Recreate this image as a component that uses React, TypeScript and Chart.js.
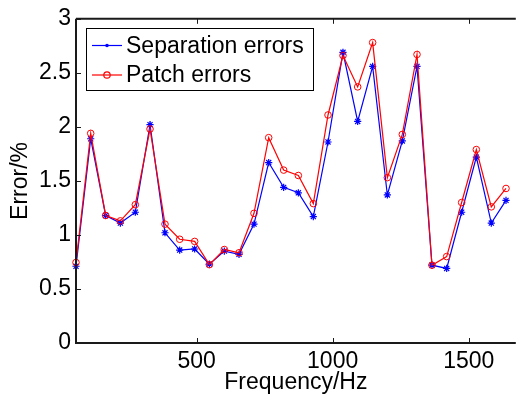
import React, { useEffect, useRef } from "react";
import { Chart, registerables } from "chart.js";

Chart.register(...registerables);

// Measurement frequencies (Hz)
const freqHz = [
  57, 111, 166, 220, 275, 329, 384, 438, 493, 547, 602, 656, 711, 765, 820,
  874, 929, 983, 1038, 1092, 1147, 1201, 1256, 1310, 1365, 1419, 1474, 1528,
  1583, 1637,
];

// Error percentages for each method
const separationErrors = [
  0.71, 1.89, 1.18, 1.11, 1.21, 2.02, 1.02, 0.86, 0.87, 0.73, 0.85, 0.82, 1.1,
  1.67, 1.44, 1.39, 1.17, 1.86, 2.69, 2.05, 2.56, 1.37, 1.87, 2.56, 0.72, 0.69,
  1.21, 1.72, 1.11, 1.32,
];
const patchErrors = [
  0.745, 1.94, 1.18, 1.13, 1.28, 1.98, 1.1, 0.96, 0.94, 0.725, 0.865, 0.835,
  1.2, 1.9, 1.6, 1.55, 1.29, 2.11, 2.66, 2.37, 2.78, 1.53, 1.93, 2.67, 0.72,
  0.8, 1.3, 1.79, 1.26, 1.43,
];

const xTicks = [500, 1000, 1500];
const yTicks = [0, 0.5, 1, 1.5, 2, 2.5, 3];
const seriesLabels = ["Separation errors", "Patch errors"];

const FONT = "Arial, 'Liberation Sans', Helvetica, sans-serif";
const FONT_SIZE = 23;

// Axis box with inward tick marks, plus a line-and-marker legend
const frameAndLegend = {
  id: "frameAndLegend",
  afterDraw(chart: any) {
    const { ctx, chartArea } = chart;
    const xs = chart.scales.x;
    const ys = chart.scales.y;
    const { left, right, top, bottom } = chartArea;
    ctx.save();
    ctx.strokeStyle = "#1a1a1a";
    ctx.lineWidth = 2;
    ctx.beginPath();
    ctx.moveTo(left, top);
    ctx.lineTo(right, top);
    ctx.moveTo(left, top);
    ctx.lineTo(left, bottom);
    ctx.lineTo(right, bottom);
    ctx.stroke();

    ctx.lineWidth = 1;
    ctx.beginPath();
    const tl = 5;
    for (const v of xTicks) {
      const px = Math.round(xs.getPixelForValue(v)) + 0.5;
      ctx.moveTo(px, bottom);
      ctx.lineTo(px, bottom - tl);
      ctx.moveTo(px, top);
      ctx.lineTo(px, top + tl);
    }
    for (const v of yTicks) {
      const py = Math.round(ys.getPixelForValue(v)) + 0.5;
      ctx.moveTo(left, py);
      ctx.lineTo(left + tl, py);
    }
    ctx.stroke();

    // legend
    const bx = 86.5, by = 28.5, bw = 227, bh = 62;
    ctx.fillStyle = "#ffffff";
    ctx.fillRect(bx, by, bw, bh);
    ctx.strokeStyle = "#000000";
    ctx.lineWidth = 1;
    ctx.strokeRect(bx, by, bw, bh);

    const rows = [45.5, 75];
    chart.data.datasets.forEach((ds: any) => {
      const rowIdx = seriesLabels.indexOf(ds.label);
      const cy = rows[rowIdx];
      ctx.strokeStyle = ds.borderColor;
      ctx.lineWidth = 1.2;
      ctx.beginPath();
      ctx.moveTo(92, cy);
      ctx.lineTo(122, cy);
      ctx.stroke();
      const cx = 107;
      ctx.beginPath();
      if (ds.pointStyle === "circle") {
        ctx.arc(cx, cy, 3.2, 0, Math.PI * 2);
        ctx.stroke();
      } else {
        ctx.fillStyle = ds.borderColor;
        ctx.arc(cx, cy, 1.8, 0, Math.PI * 2);
        ctx.fill();
      }
      ctx.fillStyle = "#000000";
      ctx.font = `${FONT_SIZE}px ${FONT}`;
      ctx.textBaseline = "middle";
      ctx.textAlign = "left";
      ctx.fillText(ds.label, 126, cy + 1);
    });
    ctx.restore();
  },
};

export default function App() {
  const canvasRef = useRef<HTMLCanvasElement | null>(null);

  useEffect(() => {
    if (!canvasRef.current) return;
    const chart = new Chart(canvasRef.current, {
      type: "line",
      data: {
        datasets: [
          {
            label: seriesLabels[1],
            data: freqHz.map((f, i) => ({ x: f, y: patchErrors[i] })),
            borderColor: "#ff0000",
            backgroundColor: "rgba(0,0,0,0)",
            borderWidth: 1.2,
            pointStyle: "circle",
            pointRadius: 3.3,
            pointBorderWidth: 1,
            pointBorderColor: "#ff0000",
            pointBackgroundColor: "rgba(0,0,0,0)",
            tension: 0,
            clip: false,
            order: 0,
          },
          {
            label: seriesLabels[0],
            data: freqHz.map((f, i) => ({ x: f, y: separationErrors[i] })),
            borderColor: "#0000ff",
            backgroundColor: "#0000ff",
            borderWidth: 1.2,
            pointStyle: "star",
            pointRadius: 3.6,
            pointBorderWidth: 1.2,
            pointBorderColor: "#0000ff",
            tension: 0,
            clip: false,
            order: 1,
          },
        ],
      },
      options: {
        responsive: false,
        animation: false,
        layout: { padding: { top: 15, right: 0, left: 0, bottom: 0 } },
        plugins: {
          legend: { display: false },
          tooltip: { enabled: false },
        },
        scales: {
          x: {
            type: "linear",
            min: 57,
            max: 1673,
            grid: { display: false, drawTicks: false },
            border: { display: false },
            afterBuildTicks: (s: any) => {
              s.ticks = xTicks.map((v) => ({ value: v }));
            },
            afterFit: (s: any) => {
              s.height = 55;
            },
            ticks: {
              color: "#000",
              padding: 5,
              maxRotation: 0,
              font: { family: FONT, size: FONT_SIZE },
              callback: (v: any) => String(v),
            },
            title: {
              display: true,
              text: "Frequency/Hz",
              color: "#000",
              font: { family: FONT, size: FONT_SIZE },
              padding: { top: 0, bottom: 2 },
            },
          },
          y: {
            type: "linear",
            min: 0,
            max: 3,
            grid: { display: false, drawTicks: false },
            border: { display: false },
            afterBuildTicks: (s: any) => {
              s.ticks = yTicks.map((v) => ({ value: v }));
            },
            afterFit: (s: any) => {
              s.width = 76;
            },
            ticks: {
              color: "#000",
              padding: 5,
              font: { family: FONT, size: FONT_SIZE },
              callback: (v: any) => String(v),
            },
            title: {
              display: true,
              text: "Error/%",
              color: "#000",
              font: { family: FONT, size: FONT_SIZE },
              padding: { top: 7, bottom: 0 },
            },
          },
        },
      },
      plugins: [frameAndLegend],
    });
    return () => chart.destroy();
  }, []);

  return (
    <div style={{ position: "fixed", left: 0, top: 0, width: 521, height: 398, background: "#fff" }}>
      <canvas ref={canvasRef} width={521} height={398} />
    </div>
  );
}
